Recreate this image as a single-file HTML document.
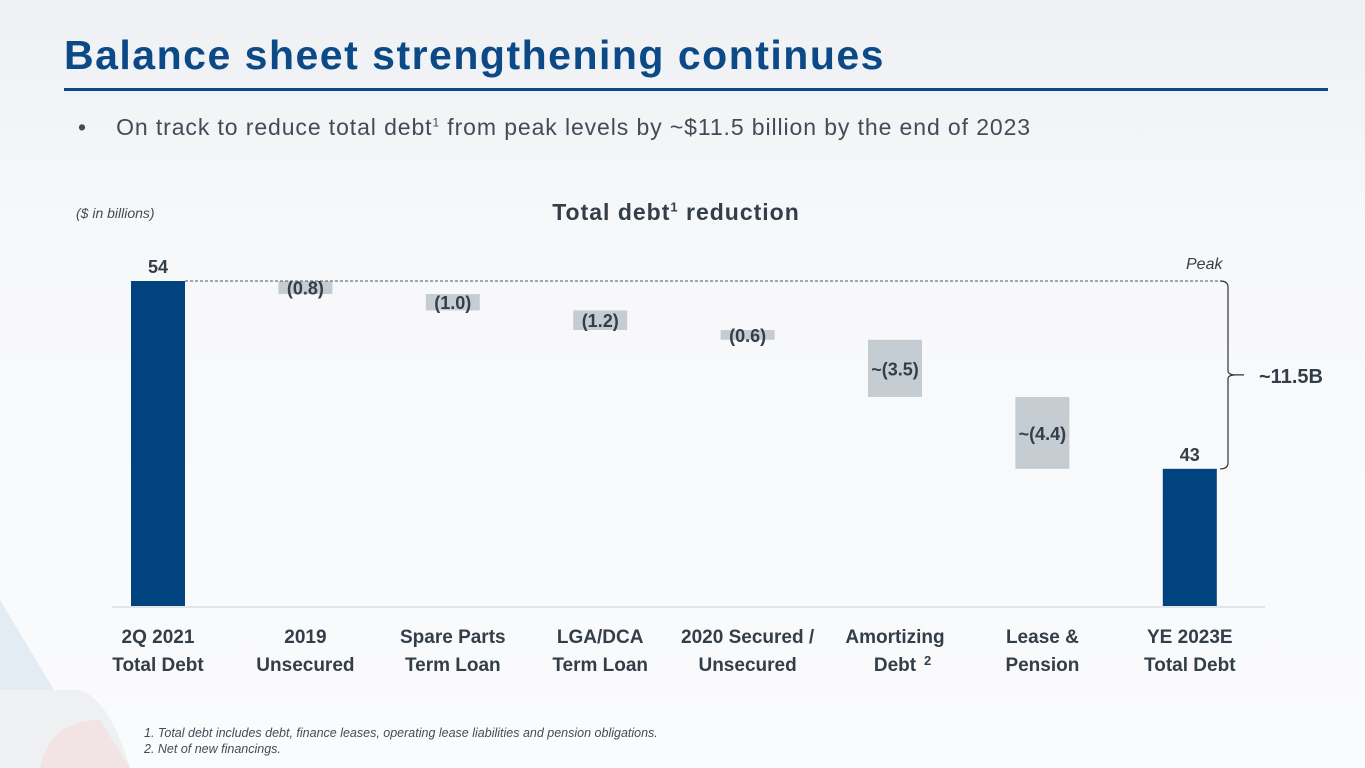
<!DOCTYPE html>
<html><head><meta charset="utf-8"><style>
body{margin:0;width:1365px;height:768px;overflow:hidden;font-family:"Liberation Sans",sans-serif;background:linear-gradient(180deg,#eef0f3 0%,#f7f8fa 30%,#fafbfc 100%);position:relative}
.abs{position:absolute}
</style></head><body>
<svg class="abs" style="left:0;top:0" width="1365" height="768">
<polygon points="0,600 0,700 60,700" fill="#dbe6ef" opacity="0.7"/>
<path d="M0,690 L80,690 Q110,700 130,768 L0,768Z" fill="#eef0f2"/>
<path d="M40,768 Q50,720 100,720 L130,768Z" fill="#f4dede" opacity="0.7"/>
</svg>
<div class="abs" style="left:64px;top:32px;font-size:41px;font-weight:bold;color:#0b4a86;letter-spacing:1.5px">Balance sheet strengthening continues</div>
<div class="abs" style="left:64px;top:88px;width:1264px;height:3px;background:#0b4a86"></div>
<div class="abs" style="left:78px;top:114px;font-size:23px;letter-spacing:0.9px;color:#444b55">•&nbsp;&nbsp;&nbsp;&nbsp;On track to reduce total debt<sup style="font-size:12px">1</sup> from peak levels by ~$11.5 billion by the end of 2023</div>
<div class="abs" style="left:76px;top:205px;font-size:14px;font-style:italic;color:#444b55">($ in billions)</div>
<div class="abs" style="left:476px;width:400px;text-align:center;top:199px;font-size:23px;letter-spacing:1px;font-weight:bold;color:#333e48">Total debt<sup style="font-size:13px">1</sup> reduction</div>
<svg id="chart" class="abs" style="left:0;top:0" width="1365" height="768"></svg>
<div class="abs" style="left:144px;top:725px;font-size:12.5px;font-style:italic;color:#444b55;line-height:16px">1. Total debt includes debt, finance leases, operating lease liabilities and pension obligations.<br>2. Net of new financings.</div>
<script>
const categories=["2Q 2021|Total Debt","2019|Unsecured","Spare Parts|Term Loan","LGA/DCA|Term Loan","2020 Secured /|Unsecured","Amortizing|Debt","Lease &|Pension","YE 2023E|Total Debt"];
const values=[54,-0.8,-1.0,-1.2,-0.6,-3.5,-4.4,42.5];
const types=["total","delta","delta","delta","delta","delta","delta","total"];
const valueLabels=["54","(0.8)","(1.0)","(1.2)","(0.6)","~(3.5)","~(4.4)","43"];
const yMin=34.1,yMax=54;
const svg=document.getElementById('chart');const NS='http://www.w3.org/2000/svg';
const plotTop=281,plotBottom=606,x0=158,step=147.4,bw=54;
function y(v){return plotBottom-(v-yMin)/(yMax-yMin)*(plotBottom-plotTop);}
function x(i){return x0+i*step;}
function mk(t,a){const e=document.createElementNS(NS,t);for(const k in a)e.setAttribute(k,a[k]);svg.appendChild(e);return e;}
const axis=mk('line',{x1:112,x2:1265,y1:plotBottom+1,y2:plotBottom+1,stroke:'#e2e5e8','stroke-width':2});

let run=0;
values.forEach((v,i)=>{
  let top,bot,fill;
  if(types[i]==='total'){top=y(v);bot=plotBottom;fill='#00437f';run=v;}
  else{top=y(run);run+=v;bot=y(run);fill='#c5cdd3';}
  const r=mk('rect',{x:x(i)-bw/2,y:top,width:bw,height:Math.max(1,bot-top),fill:fill});
  
  const ly=types[i]==='total'?top-8:(top+bot)/2+7;
  const t=mk('text',{x:x(i),y:ly,'text-anchor':'middle','font-size':18,'font-weight':'bold',fill:'#333e48'});
  t.textContent=valueLabels[i];
  
  const parts=categories[i].split('|');
  parts.forEach((p,j)=>{const c=mk('text',{x:x(i),y:643+j*28,'text-anchor':'middle','font-size':19,'font-weight':'bold',fill:'#333e48'});c.textContent=p;
    });
  if(i===5){const s=mk('text',{x:x(i)+29,y:665,'font-size':13,'font-weight':'bold',fill:'#333e48'});s.textContent='2';
    }
});
const yPeak=y(values[0]),yEnd=y(values[7]);
const d=mk('line',{x1:x(0)+bw/2,x2:1224,y1:yPeak,y2:yPeak,stroke:'#555','stroke-width':1,'stroke-dasharray':'3,2'});

const mid=(yPeak+yEnd)/2;
const b=mk('path',{d:`M1220,${yPeak} Q1228,${yPeak} 1228,${yPeak+6} L1228,${mid-4} Q1228,${mid} 1236,${mid} L1244,${mid} M1236,${mid} Q1228,${mid} 1228,${mid+4} L1228,${yEnd-6} Q1228,${yEnd} 1220,${yEnd}`,fill:'none',stroke:'#333','stroke-width':1.2});

const pk=mk('text',{x:1186,y:269,'font-size':16,'font-style':'italic',fill:'#333e48'});pk.textContent='Peak';

const rl=mk('text',{x:1259,y:mid+8,'font-size':20,'font-weight':'bold',fill:'#333e48'});rl.textContent='~11.5B';

</script>
</body></html>
